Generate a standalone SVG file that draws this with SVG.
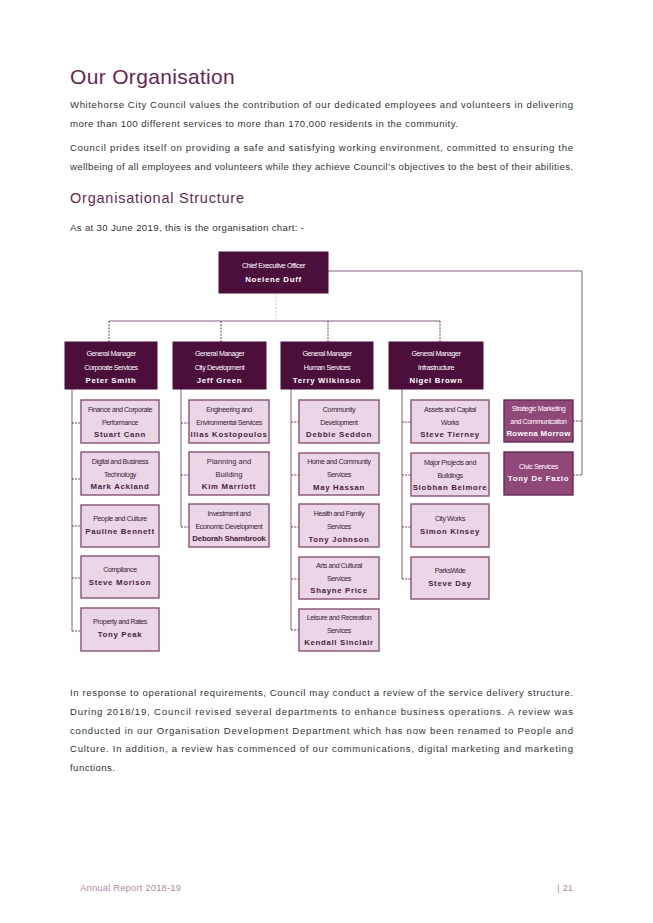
<svg xmlns="http://www.w3.org/2000/svg" width="653" height="923" viewBox="0 0 653 923">
<style>
.bg{fill:#ffffff}
.h1{font-family:"Liberation Sans",Arial,sans-serif;font-size:21px;fill:#6b1f55;letter-spacing:1.2px}
.h2{font-family:"Liberation Sans",Arial,sans-serif;font-size:14.5px;fill:#6b1f55;letter-spacing:1px}
.p{font-family:"Liberation Sans",Arial,sans-serif;font-size:9.6px;fill:#333333}
.foot{font-family:"Liberation Sans",Arial,sans-serif;font-size:9.5px;fill:#b886a6}
.dark{fill:#4c0f3b;stroke:#4c0f3b;stroke-width:1}
.light{fill:#ead6e4;stroke:#8b4f7a;stroke-width:1.4}
.mid{fill:#8f4878;stroke:#6a2a58;stroke-width:1.4}
.tw{font-family:"Liberation Sans",Arial,sans-serif;font-size:7.1px;fill:#ffffff;text-anchor:middle;letter-spacing:-0.4px}
.nw{font-family:"Liberation Sans",Arial,sans-serif;font-size:7.8px;font-weight:bold;fill:#ffffff;text-anchor:middle;letter-spacing:0.7px}
.td{font-family:"Liberation Sans",Arial,sans-serif;font-size:7.1px;fill:#3e2236;text-anchor:middle;letter-spacing:-0.4px}
.nd{font-family:"Liberation Sans",Arial,sans-serif;font-size:7.8px;font-weight:bold;fill:#4a1d3e;text-anchor:middle;letter-spacing:0.7px}
.ln{fill:none;stroke:#8a5c82;stroke-width:1}
.dl{fill:none;stroke:#6a3a60;stroke-width:1;stroke-dasharray:2,1.2}
.pk{fill:none;stroke:#efb8dc;stroke-width:1;stroke-dasharray:2,1.5}
</style>
<rect class="bg" x="0" y="0" width="653" height="923"/>

<g id="text-top">
<text class="h1" x="70" y="84" textLength="166" lengthAdjust="spacing">Our Organisation</text>
<text class="p" x="70" y="108" textLength="503" lengthAdjust="spacing">Whitehorse City Council values the contribution of our dedicated employees and volunteers in delivering</text>
<text class="p" x="70" y="127" textLength="388" lengthAdjust="spacing">more than 100 different services to more than 170,000 residents in the community.</text>
<text class="p" x="70" y="151" textLength="503" lengthAdjust="spacing">Council prides itself on providing a safe and satisfying working environment, committed to ensuring the</text>
<text class="p" x="70" y="170" textLength="503" lengthAdjust="spacing">wellbeing of all employees and volunteers while they achieve Council’s objectives to the best of their abilities.</text>
<text class="h2" x="70" y="203" textLength="175" lengthAdjust="spacing">Organisational Structure</text>
<text class="p" x="70" y="231" textLength="234" lengthAdjust="spacing">As at 30 June 2019, this is the organisation chart: -</text>
</g>

<g id="connectors">
<path class="pk" d="M276,293 V321"/>
<path class="ln" d="M109,321 H440"/>
<path class="dl" d="M109,321 V342 M221,321 V342 M328,321 V342 M440,321 V342"/>
<path class="ln" d="M328,271 H582 V475"/>
<path class="dl" d="M573,421 H582 M573,475 H582"/>
<path class="ln" d="M72,389 V631"/>
<path class="dl" d="M72,423 H81 M72,479 H81 M72,526 H81 M72,578 H81 M72,631 H81"/>
<path class="ln" d="M181,389 V527"/>
<path class="dl" d="M181,423 H189 M181,475 H189 M181,527 H189"/>
<path class="ln" d="M291,389 V630"/>
<path class="dl" d="M291,422 H299 M291,475 H299 M291,527 H299 M291,579 H299 M291,630 H299"/>
<path class="ln" d="M402,389 V579"/>
<path class="dl" d="M402,422 H411 M402,475 H411 M402,527 H411 M402,579 H411"/>
</g>

<g id="ceo">
<rect class="dark" x="219" y="252" width="109" height="41"/>
<text class="tw" x="273.5" y="267.5">Chief Executive Officer</text>
<text class="nw" x="273.5" y="282">Noelene Duff</text>
</g>

<g id="gm-corporate">
<rect class="dark" x="65" y="342" width="92" height="47"/>
<text class="tw" x="111" y="355.5">General Manager</text>
<text class="tw" x="111" y="369.5">Corporate  Services</text>
<text class="nw" x="111" y="383">Peter Smith</text>
</g>
<g id="gm-city">
<rect class="dark" x="173" y="342" width="93" height="47"/>
<text class="tw" x="219.5" y="355.5">General Manager</text>
<text class="tw" x="219.5" y="369.5">City Development</text>
<text class="nw" x="219.5" y="383">Jeff Green</text>
</g>
<g id="gm-human">
<rect class="dark" x="281" y="342" width="92" height="47"/>
<text class="tw" x="327" y="355.5">General Manager</text>
<text class="tw" x="327" y="369.5">Human Services</text>
<text class="nw" x="327" y="383">Terry Wilkinson</text>
</g>
<g id="gm-infra">
<rect class="dark" x="389" y="342" width="94" height="47"/>
<text class="tw" x="436" y="355.5">General Manager</text>
<text class="tw" x="436" y="369.5">Infrastructure</text>
<text class="nw" x="436" y="383">Nigel Brown</text>
</g>

<g id="finance">
<rect class="light" x="81" y="400" width="78" height="43"/>
<text class="td" x="120" y="411.5">Finance and Corporate</text>
<text class="td" x="120" y="424.5">Performance</text>
<text class="nd" x="120" y="437">Stuart Cann</text>
</g>
<g id="digital">
<rect class="light" x="81" y="452" width="78" height="43"/>
<text class="td" x="120" y="463.5">Digital and Business</text>
<text class="td" x="120" y="476.5">Technology</text>
<text class="nd" x="120" y="489">Mark Ackland</text>
</g>
<g id="people">
<rect class="light" x="81" y="505" width="78" height="42"/>
<text class="td" x="120" y="520.5">People and Culture</text>
<text class="nd" x="120" y="534">Pauline Bennett</text>
</g>
<g id="compliance">
<rect class="light" x="81" y="556" width="78" height="42"/>
<text class="td" x="120" y="571.5">Compliance</text>
<text class="nd" x="120" y="584.5">Steve Morison</text>
</g>
<g id="property">
<rect class="light" x="81" y="608" width="78" height="43"/>
<text class="td" x="120" y="623.5">Property and Rates</text>
<text class="nd" x="120" y="636.5">Tony Peak</text>
</g>

<g id="engineering">
<rect class="light" x="189" y="400" width="80" height="43"/>
<text class="td" x="229" y="411.5">Engineering  and</text>
<text class="td" x="229" y="424.5">Environmental Services</text>
<text class="nd" x="229" y="437">Ilias Kostopoulos</text>
</g>
<g id="planning">
<rect class="light" x="189" y="452" width="80" height="43"/>
<text class="td" x="229" y="464" style="font-size:7.6px;letter-spacing:0">Planning and</text>
<text class="td" x="229" y="477" style="font-size:7.6px;letter-spacing:0">Building</text>
<text class="nd" x="229" y="489">Kim Marriott</text>
</g>
<g id="investment">
<rect class="light" x="189" y="504" width="80" height="43"/>
<text class="td" x="229" y="516">Investment and</text>
<text class="td" x="229" y="529">Economic Development</text>
<text class="nd" x="229" y="541" style="letter-spacing:-0.2px">Deborah Shambrook</text>
</g>

<g id="community">
<rect class="light" x="299" y="400" width="80" height="43"/>
<text class="td" x="339" y="411.5">Community</text>
<text class="td" x="339" y="424.5">Development</text>
<text class="nd" x="339" y="437">Debbie Seddon</text>
</g>
<g id="home">
<rect class="light" x="299" y="453" width="80" height="42"/>
<text class="td" x="339" y="464">Home and Community</text>
<text class="td" x="339" y="477">Services</text>
<text class="nd" x="339" y="489.5">May Hassan</text>
</g>
<g id="health">
<rect class="light" x="299" y="504" width="80" height="43"/>
<text class="td" x="339" y="516">Health and Family</text>
<text class="td" x="339" y="529">Services</text>
<text class="nd" x="339" y="541.5">Tony Johnson</text>
</g>
<g id="arts">
<rect class="light" x="299" y="557" width="80" height="42"/>
<text class="td" x="339" y="567.5">Arts and Cultural</text>
<text class="td" x="339" y="580.5">Services</text>
<text class="nd" x="339" y="593">Shayne Price</text>
</g>
<g id="leisure">
<rect class="light" x="299" y="609" width="80" height="42"/>
<text class="td" x="339" y="620">Leisure  and Recreation</text>
<text class="td" x="339" y="632.5">Services</text>
<text class="nd" x="339" y="645">Kendall Sinclair</text>
</g>

<g id="assets">
<rect class="light" x="411" y="400" width="78" height="43"/>
<text class="td" x="450" y="411.5">Assets and Capital</text>
<text class="td" x="450" y="424.5">Works</text>
<text class="nd" x="450" y="436.5">Steve Tierney</text>
</g>
<g id="major">
<rect class="light" x="411" y="453" width="78" height="43"/>
<text class="td" x="450" y="464.5">Major Projects and</text>
<text class="td" x="450" y="477.5">Buildings</text>
<text class="nd" x="450" y="490">Siobhan Belmore</text>
</g>
<g id="cityworks">
<rect class="light" x="411" y="504" width="78" height="43"/>
<text class="td" x="450" y="520.5">City Works</text>
<text class="nd" x="450" y="534">Simon Kinsey</text>
</g>
<g id="parkswide">
<rect class="light" x="411" y="557" width="78" height="42"/>
<text class="td" x="450" y="572.5">ParksWide</text>
<text class="nd" x="450" y="585.5">Steve Day</text>
</g>

<g id="strategic">
<rect class="mid" x="504" y="400" width="69" height="42"/>
<text class="tw" x="538.5" y="411">Strategic Marketing</text>
<text class="tw" x="538.5" y="423.5">and Communication</text>
<text class="nw" x="538.5" y="435.5" style="letter-spacing:0.3px">Rowena Morrow</text>
</g>
<g id="civic">
<rect class="mid" x="504" y="452" width="69" height="43"/>
<text class="tw" x="538.5" y="468.5">Civic Services</text>
<text class="nw" x="538.5" y="481">Tony De Fazio</text>
</g>

<g id="text-bottom">
<text class="p" x="70" y="696" textLength="503" lengthAdjust="spacing">In response to operational requirements, Council may conduct a review of the service delivery structure.</text>
<text class="p" x="70" y="715" textLength="503" lengthAdjust="spacing">During 2018/19, Council revised several departments to enhance business operations. A review was</text>
<text class="p" x="70" y="734" textLength="503" lengthAdjust="spacing">conducted in our Organisation Development Department which has now been renamed to People and</text>
<text class="p" x="70" y="752" textLength="503" lengthAdjust="spacing">Culture.  In addition, a review has commenced of our communications, digital marketing and marketing</text>
<text class="p" x="70" y="771" textLength="45" lengthAdjust="spacing">functions.</text>
<text class="foot" x="80" y="891" textLength="101" lengthAdjust="spacing">Annual Report 2018-19</text>
<text class="foot" x="573" y="891" text-anchor="end">| 21</text>
</g>
</svg>
